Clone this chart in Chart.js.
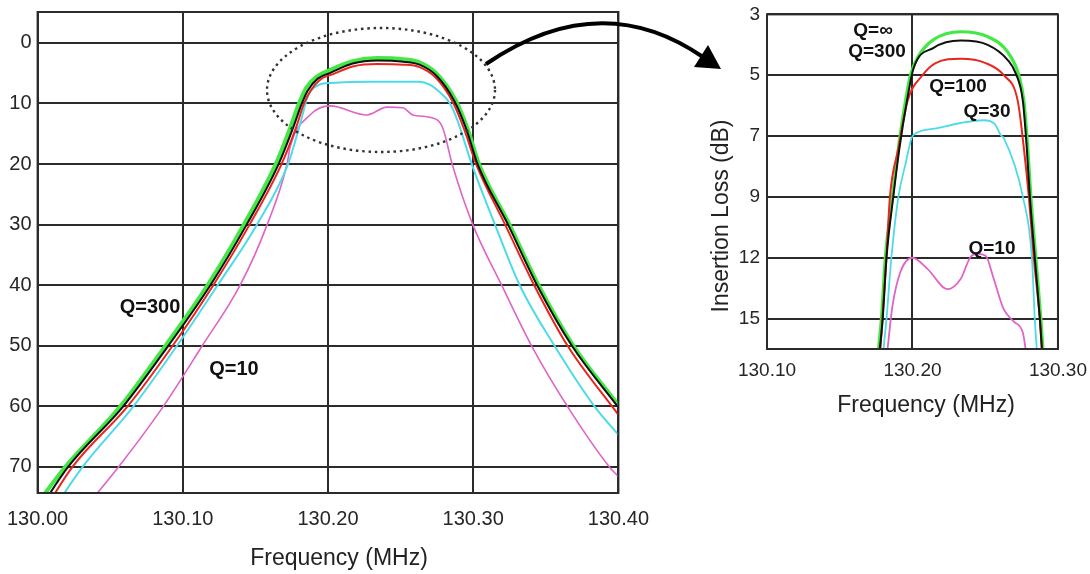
<!DOCTYPE html>
<html>
<head>
<meta charset="utf-8">
<title>Insertion loss vs frequency</title>
<script src="https://cdn.jsdelivr.net/npm/chart.js@4.4.0/dist/chart.umd.min.js"></script>
<style>
    html, body { margin: 0; padding: 0; background: #fff; }
    #wrap { position: relative; width: 1090px; height: 574px; overflow: hidden; }
    /* boxes are nudged so the plot areas land where the original's do */
    #wideBox { position: absolute; left: -7px; top: -6px; width: 670px; height: 580px; }
    #zoomBox { position: absolute; left: 690px; top: -4px; width: 407px; height: 424px; }
    #overlay { position: absolute; left: 0; top: 0; pointer-events: none; }
</style>
</head>
<body>
<div id="wrap">
    <div id="wideBox"><canvas id="wideChart"></canvas></div>
    <div id="zoomBox"><canvas id="zoomChart"></canvas></div>
    <canvas id="overlay" width="1090" height="574"></canvas>
</div>
<script>
// ---- wide view: frequency (MHz) vs insertion loss (dB) ----
const wideFreqTicks = [130.00, 130.10, 130.20, 130.30, 130.40];
const wideLossTicks = [0, 10, 20, 30, 40, 50, 60, 70];

const wideQinf = [[130.000, 76.0], [130.019, 70], [130.057, 60], [130.088, 50], [130.117, 40], [130.142, 30],
    [130.164, 20], [130.174, 14], [130.180, 10], [130.185, 7.4], [130.192, 5.6], [130.202, 4.4], [130.217, 3.0],
    [130.234, 2.5], [130.252, 2.7], [130.263, 3.2], [130.275, 5.1], [130.288, 9.5], [130.2965, 14.4],
    [130.304, 20], [130.325, 30], [130.345, 40], [130.369, 50], [130.400, 59.8]];
const wideQ300 = [[130.000, 77.5], [130.021, 70], [130.059, 60], [130.090, 50], [130.119, 40], [130.144, 30],
    [130.166, 20], [130.176, 14], [130.182, 10], [130.186, 7.9], [130.193, 5.9], [130.202, 4.9], [130.217, 3.4],
    [130.234, 2.9], [130.252, 3.1], [130.263, 3.6], [130.275, 5.5], [130.287, 9.6], [130.2955, 14.4],
    [130.303, 20], [130.324, 30], [130.344, 40], [130.368, 50], [130.400, 60.2]];
const wideQ100 = [[130.000, 79.0], [130.024, 70], [130.062, 60], [130.093, 50], [130.121, 40], [130.146, 30],
    [130.168, 20], [130.178, 14], [130.1835, 10], [130.188, 7.9], [130.195, 6.0], [130.203, 5.2], [130.217, 3.9],
    [130.234, 3.5], [130.252, 3.6], [130.263, 4.0], [130.274, 5.7], [130.286, 9.8], [130.294, 14.4],
    [130.302, 20], [130.322, 30], [130.342, 40], [130.365, 50], [130.400, 61.4]];
const wideQ30 = [[130.000, 81.0], [130.031, 70], [130.066, 60], [130.096, 50], [130.124, 40], [130.151, 30],
    [130.1725, 20], [130.181, 13.2], [130.186, 8.9], [130.194, 6.9], [130.202, 6.6], [130.230, 6.4],
    [130.263, 6.4], [130.270, 6.9], [130.279, 8.6], [130.284, 10], [130.289, 12.7], [130.299, 20],
    [130.315, 30], [130.332, 40], [130.356, 50], [130.3835, 60], [130.400, 64.7]];
const wideQ10 = [[130.000, 86.0], [130.0557, 70], [130.0866, 60], [130.1134, 50], [130.1395, 40], [130.1581, 30],
    [130.1718, 20], [130.1739, 17.2], [130.1876, 11.9], [130.2014, 10.4], [130.2268, 11.9], [130.2405, 10.6],
    [130.2515, 10.7], [130.2584, 11.9], [130.2722, 12.4], [130.2790, 14.0], [130.2855, 20], [130.2997, 30],
    [130.3196, 40], [130.3402, 50], [130.3649, 60], [130.3938, 70], [130.400, 71.6]];

// ---- zoomed passband ----
const zoomFreqTicks = [130.10, 130.20, 130.30];
const zoomLossTicks = [3, 5, 7, 9, 12, 15];

const zoomQinf = [[130.1766, 16.55], [130.1786, 15.05], [130.1814, 11.95], [130.1862, 9], [130.1903, 7.41],
    [130.1952, 5.85], [130.1986, 5.0], [130.2041, 4.37], [130.2145, 3.83], [130.2331, 3.57], [130.2517, 3.73],
    [130.2655, 4.24], [130.2731, 5.0], [130.2766, 5.85], [130.2793, 7.41], [130.2814, 9], [130.2848, 12],
    [130.2883, 15.05], [130.2897, 16.55]];
const zoomQ300 = [[130.1775, 16.55], [130.1795, 15.05], [130.1822, 11.95], [130.1868, 9], [130.1910, 7.41],
    [130.1962, 5.85], [130.2007, 4.78], [130.2145, 4.1], [130.2331, 3.86], [130.2517, 4.0], [130.2655, 4.5],
    [130.2710, 4.94], [130.2759, 5.85], [130.2786, 7.41], [130.2807, 9], [130.2841, 12], [130.2876, 15.05],
    [130.2890, 16.55]];
const zoomQ100 = [[130.1779, 16.55], [130.1793, 15.05], [130.1821, 12], [130.1845, 9], [130.1903, 7.41],
    [130.1966, 5.85], [130.2069, 5.0], [130.2159, 4.6], [130.2331, 4.46], [130.2503, 4.6], [130.2628, 5.0],
    [130.2724, 5.85], [130.2766, 7.41], [130.2800, 9], [130.2834, 12], [130.2876, 15.05], [130.2890, 16.55]];
const zoomQ30 = [[130.1800, 16.55], [130.1821, 15.05], [130.1855, 12], [130.1903, 9], [130.1952, 7.92],
    [130.1993, 7.07], [130.2010, 6.95], [130.2172, 6.74], [130.2331, 6.57], [130.2490, 6.48], [130.2565, 6.6],
    [130.2607, 6.97], [130.2628, 7.07], [130.2759, 9], [130.2821, 12], [130.2841, 15.05], [130.2855, 16.55]];
const zoomQ10 = [[130.1828, 16.55], [130.1862, 14.4], [130.1917, 12.7], [130.2000, 12.0], [130.2103, 12.55],
    [130.2241, 13.55], [130.2331, 13.05], [130.2400, 11.95], [130.2448, 11.81], [130.2503, 11.9],
    [130.2559, 13.05], [130.2628, 14.55], [130.2697, 15.15], [130.2759, 15.7], [130.2779, 16.55]];

const FONT = '"Liberation Sans", Arial, sans-serif';
const GRID = '#2b2b2b';

// the zoom panel's loss axis is not linear: each labelled value sits one step apart
function lossToStep(db) {
    const t = zoomLossTicks;
    if (db <= t[0]) return (db - t[0]) / (t[1] - t[0]);
    for (let i = 0; i < t.length - 1; i++) {
        if (db <= t[i + 1]) return i + (db - t[i]) / (t[i + 1] - t[i]);
    }
    const n = t.length - 1;
    return n + (db - t[n]) / (t[n] - t[n - 1]);
}

function line(points, color, width, order, mapY) {
    return {
        data: points.map(p => ({ x: p[0], y: mapY ? mapY(p[1]) : p[1] })),
        borderColor: color,
        borderWidth: width,
        pointRadius: 0,
        cubicInterpolationMode: 'monotone',
        fill: false,
        order: order
    };
}

// frame round the plot area plus free text (axis titles, curve notes)
const framePlugin = {
    id: 'frame',
    afterDatasetsDraw(chart, args, opts) {
        const { ctx, chartArea: a } = chart;
        ctx.save();
        ctx.strokeStyle = GRID;
        ctx.lineWidth = 2;
        ctx.strokeRect(a.left, a.top, a.right - a.left, a.bottom - a.top);
        ctx.restore();
    },
    afterDraw(chart, args, opts) {
        const ctx = chart.ctx;
        (opts.texts || []).forEach(t => {
            ctx.save();
            ctx.font = t.font;
            ctx.fillStyle = t.color || '#111';
            ctx.textAlign = 'center';
            ctx.textBaseline = 'middle';
            ctx.translate(t.x, t.y);
            if (t.rotate) ctx.rotate(t.rotate);
            ctx.fillText(t.text, 0, 0);
            ctx.restore();
        });
    }
};

new Chart(document.getElementById('wideChart'), {
    type: 'line',
    data: {
        datasets: [
            line(wideQinf, '#44e844', 4, 5),
            line(wideQ300, '#111111', 2, 1),
            line(wideQ100, '#e8261e', 2, 2),
            line(wideQ30, '#4ddbe8', 2, 3),
            line(wideQ10, '#e064c8', 1.6, 4)
        ]
    },
    options: {
        responsive: true,
        maintainAspectRatio: false,
        animation: false,
        layout: { padding: { top: 12, right: 41, left: 0, bottom: 0 } },
        plugins: {
            legend: { display: false },
            tooltip: { enabled: false },
            frame: {
                // canvas coordinates (box sits at -7,-6 on the page)
                texts: [
                    { text: 'Frequency (MHz)', x: 346, y: 565, font: '23px ' + FONT, color: '#222' },
                    { text: 'Q=300', x: 157, y: 313, font: 'bold 20px ' + FONT },
                    { text: 'Q=10', x: 241, y: 375, font: 'bold 20px ' + FONT }
                ]
            }
        },
        scales: {
            x: {
                type: 'linear',
                min: 130.00,
                max: 130.40,
                afterBuildTicks: s => { s.ticks = wideFreqTicks.map(v => ({ value: v })); },
                afterFit: s => { s.height = 81; },
                grid: { color: GRID, lineWidth: 2, drawTicks: false },
                border: { display: false },
                ticks: {
                    padding: 14,
                    maxRotation: 0,
                    autoSkip: false,
                    color: '#262626',
                    font: { family: FONT, size: 20 },
                    callback: v => v.toFixed(2)
                }
            },
            y: {
                type: 'linear',
                reverse: true,
                min: -5.1,
                max: 74.3,
                afterBuildTicks: s => { s.ticks = wideLossTicks.map(v => ({ value: v })); },
                afterFit: s => { s.width = 37; },
                grid: { color: GRID, lineWidth: 2, drawTicks: false },
                border: { display: false },
                ticks: {
                    padding: 6,
                    autoSkip: false,
                    color: '#262626',
                    font: { family: FONT, size: 20 },
                    callback: v => String(v)
                }
            }
        }
    },
    plugins: [framePlugin]
});

new Chart(document.getElementById('zoomChart'), {
    type: 'line',
    data: {
        datasets: [
            line(zoomQinf, '#44e844', 3.2, 5, lossToStep),
            line(zoomQ300, '#111111', 2, 1, lossToStep),
            line(zoomQ100, '#e8261e', 2, 2, lossToStep),
            line(zoomQ30, '#4ddbe8', 1.8, 3, lossToStep),
            line(zoomQ10, '#e064c8', 1.8, 4, lossToStep)
        ]
    },
    options: {
        responsive: true,
        maintainAspectRatio: false,
        animation: false,
        layout: { padding: { top: 14, right: 33, left: 0, bottom: 0 } },
        plugins: {
            legend: { display: false },
            tooltip: { enabled: false },
            frame: {
                // canvas coordinates (box sits at 690,-4 on the page)
                texts: [
                    { text: 'Frequency (MHz)', x: 236, y: 410, font: '23px ' + FONT, color: '#222' },
                    { text: 'Insertion Loss (dB)', x: 32, y: 220, font: '23px ' + FONT, color: '#222', rotate: -Math.PI / 2 },
                    { text: 'Q=\u221E', x: 183, y: 35, font: 'bold 19px ' + FONT },
                    { text: 'Q=300', x: 187, y: 56, font: 'bold 19px ' + FONT },
                    { text: 'Q=100', x: 268, y: 91, font: 'bold 19px ' + FONT },
                    { text: 'Q=30', x: 297, y: 116, font: 'bold 19px ' + FONT },
                    { text: 'Q=10', x: 302, y: 253, font: 'bold 19px ' + FONT }
                ]
            }
        },
        scales: {
            x: {
                type: 'linear',
                min: 130.10,
                max: 130.30,
                afterBuildTicks: s => { s.ticks = zoomFreqTicks.map(v => ({ value: v })); },
                afterFit: s => { s.height = 71; },
                grid: { color: GRID, lineWidth: 2, drawTicks: false },
                border: { display: false },
                ticks: {
                    padding: 10,
                    maxRotation: 0,
                    autoSkip: false,
                    color: '#262626',
                    font: { family: FONT, size: 19 },
                    callback: v => v.toFixed(2)
                }
            },
            y: {
                type: 'linear',
                reverse: true,
                min: 0,
                max: 5.5,
                afterBuildTicks: s => { s.ticks = zoomLossTicks.map((v, i) => ({ value: i })); },
                afterFit: s => { s.width = 77; },
                grid: { color: GRID, lineWidth: 2, drawTicks: false },
                border: { display: false },
                ticks: {
                    padding: 7,
                    autoSkip: false,
                    color: '#262626',
                    font: { family: FONT, size: 19 },
                    callback: v => String(zoomLossTicks[v])
                }
            }
        }
    },
    plugins: [framePlugin]
});

// dotted ring round the passband and the arrow pointing to the zoomed panel
const ov = document.getElementById('overlay').getContext('2d');
ov.strokeStyle = '#333';
ov.lineWidth = 2.4;
ov.setLineDash([2.5, 3.8]);
ov.beginPath();
ov.ellipse(381, 90, 114, 62, 0, 0, Math.PI * 2);
ov.stroke();

ov.setLineDash([]);
ov.strokeStyle = '#000';
ov.fillStyle = '#000';
ov.lineWidth = 4;
ov.beginPath();
ov.moveTo(486, 64);
ov.quadraticCurveTo(600, -14, 703, 57);
ov.stroke();
ov.beginPath();
ov.moveTo(721, 69);
ov.lineTo(694, 67);
ov.lineTo(708, 45);
ov.closePath();
ov.fill();
</script>
</body>
</html>
